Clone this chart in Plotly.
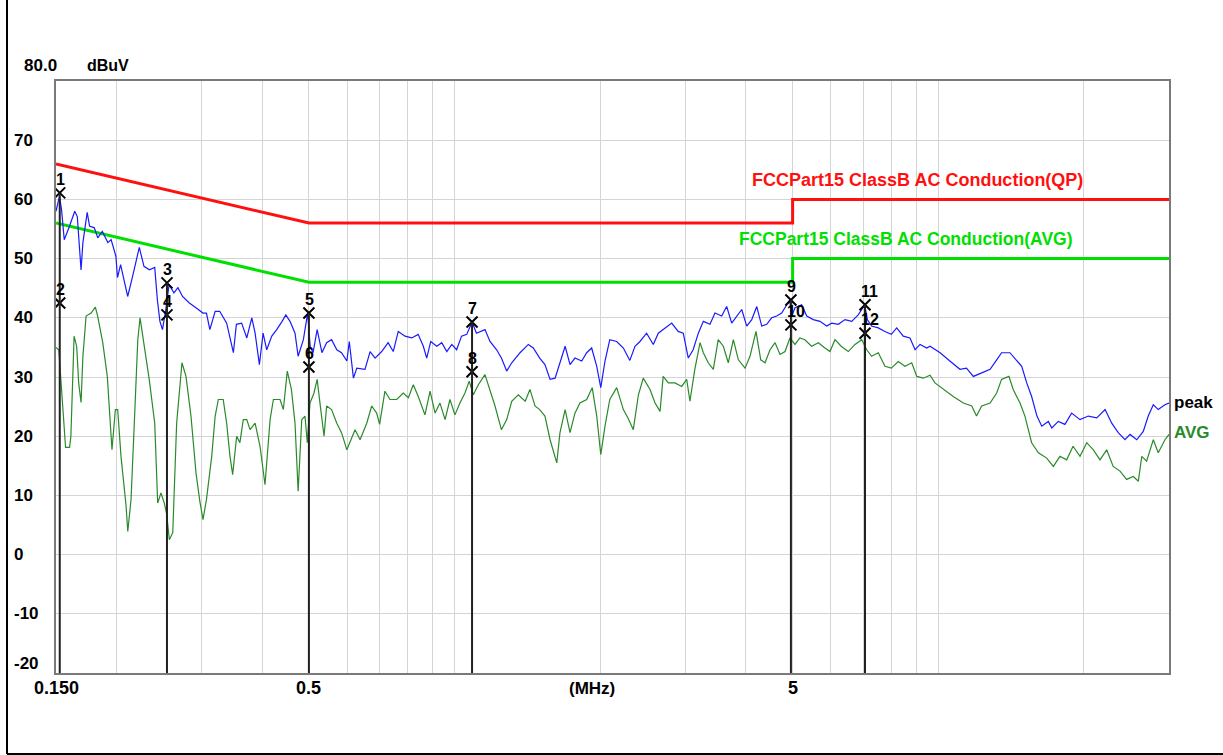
import math
import plotly.graph_objects as go

# ---------------- data ----------------
peak_freq = [0.150, 0.1525, 0.154, 0.156, 0.160, 0.164, 0.166, 0.169, 0.1705, 0.174, 0.176, 0.180, 0.183, 0.187,
             0.192, 0.195, 0.1995, 0.201, 0.204, 0.211, 0.216, 0.223, 0.228, 0.234, 0.240, 0.243, 0.246, 0.249,
             0.253, 0.257, 0.263, 0.268, 0.274, 0.283, 0.292, 0.302, 0.307, 0.312, 0.320, 0.327, 0.338, 0.349,
             0.354, 0.363, 0.372, 0.381, 0.387, 0.395, 0.402, 0.409, 0.419, 0.429, 0.440, 0.448, 0.457, 0.468,
             0.475, 0.487, 0.497, 0.503, 0.510, 0.520, 0.532, 0.544, 0.557, 0.571, 0.584, 0.599, 0.606, 0.618,
             0.628, 0.653, 0.669, 0.685, 0.707, 0.729, 0.747, 0.765, 0.790, 0.816, 0.841, 0.862, 0.876, 0.893,
             0.919, 0.941, 0.964, 0.987, 1.01, 1.034, 1.06, 1.087, 1.11, 1.156, 1.184, 1.222, 1.25, 1.282, 1.313,
             1.366, 1.421, 1.455, 1.50, 1.538, 1.576, 1.614, 1.652, 1.693, 1.733, 1.774, 1.832, 1.876, 1.921,
             1.968, 2.006, 2.047, 2.094, 2.164, 2.234, 2.304, 2.361, 2.418, 2.495, 2.576, 2.638, 2.722, 2.812,
             2.900, 2.971, 3.043, 3.114, 3.192, 3.269, 3.374, 3.455, 3.567, 3.653, 3.742, 3.833, 3.924, 4.019,
             4.116, 4.216, 4.316, 4.421, 4.525, 4.635, 4.747, 4.862, 4.93, 4.98, 5.057, 5.22, 5.348, 5.517, 5.696,
             5.880, 6.023, 6.216, 6.417, 6.625, 6.833, 7.05, 7.134, 7.282, 7.518, 7.760, 8.0, 8.206, 8.468, 8.742,
             8.957, 9.172, 9.468, 9.618, 10.09, 10.57, 11.09, 11.44, 11.82, 12.30, 12.80, 13.21, 13.52, 14.07,
             14.52, 14.88, 15.24, 15.60, 16.0, 16.37, 16.89, 17.17, 17.71, 18.28, 18.87, 19.64, 20.43, 21.27,
             22.13, 22.84, 23.56, 24.33, 24.92, 25.73, 26.54, 27.18, 27.84, 28.50, 29.43, 30.0]
peak_level = [58.0, 60.5, 58.3, 53.2, 55.5, 58.0, 57.1, 48.1, 52.7, 57.8, 55.5, 55.2, 53.5, 54.6,
              52.7, 53.2, 50.4, 46.8, 49.0, 43.6, 47.0, 51.9, 48.7, 48.1, 48.5, 43.1, 39.4, 38.0,
              41.4, 45.6, 44.2, 45.1, 43.6, 42.5, 41.7, 40.8, 40.8, 38.0, 41.1, 41.1, 39.1, 34.1,
              38.9, 39.1, 36.6, 40.0, 37.4, 32.1, 37.4, 34.6, 36.9, 38.0, 39.4, 40.5, 39.4, 37.4,
              33.5, 36.3, 40.8, 35.2, 34.1, 38.0, 34.1, 35.8, 36.3, 34.6, 34.1, 32.7, 36.0, 29.8,
              31.5, 31.3, 34.3, 33.2, 34.3, 35.8, 34.3, 37.7, 36.9, 36.6, 37.2, 35.2, 33.2, 36.0,
              35.2, 35.8, 34.3, 35.5, 34.6, 36.9, 37.2, 39.3, 37.4, 38.0, 36.0, 34.6, 33.2, 31.0, 32.4,
              34.1, 35.5, 34.9, 33.2, 32.1, 29.6, 29.8, 32.4, 35.2, 32.1, 33.2, 32.7, 34.1, 34.9,
              31.8, 28.2, 32.7, 36.3, 36.0, 34.9, 32.8, 35.2, 36.0, 37.4, 35.5, 37.4, 38.3, 39.1,
              37.7, 37.4, 33.2, 34.6, 37.4, 39.4, 38.9, 40.8, 40.3, 41.9, 39.1, 40.3, 41.4, 38.6,
              39.7, 41.9, 38.6, 38.9, 40.0, 40.3, 40.8, 42.2, 43.0, 40.3, 41.7, 42.2, 40.3, 39.7, 39.4,
              38.6, 39.1, 38.9, 39.7, 39.4, 40.5, 42.2, 39.7, 38.6, 38.3, 37.7, 37.2, 38.3, 36.9, 36.6,
              34.6, 35.5, 34.9, 35.2, 34.1, 32.7, 31.3, 31.5, 30.1, 30.7, 31.3, 32.9, 34.1, 34.1,
              32.9, 31.8, 29.0, 26.7, 23.4, 21.7, 22.5, 21.4, 22.5, 22.0, 23.9, 22.8, 23.4, 23.1,
              24.5, 22.2, 20.6, 19.4, 20.3, 19.4, 20.8, 23.4, 25.3, 24.5, 25.3, 25.6]

avg_freq = [0.150, 0.152, 0.153, 0.155, 0.157, 0.160, 0.161, 0.1635, 0.1655, 0.1671, 0.169, 0.1705, 0.1731,
            0.1773, 0.1809, 0.1829, 0.1874, 0.1915, 0.1958, 0.1990, 0.2012, 0.2044, 0.2094, 0.2111, 0.2144,
            0.2178, 0.2214, 0.2238, 0.2284, 0.2338, 0.240, 0.2434, 0.2472, 0.2512, 0.2541, 0.2573, 0.2615,
            0.2664, 0.2732, 0.2785, 0.2852, 0.2921, 0.2975, 0.302, 0.307, 0.3148, 0.320, 0.3249, 0.3325,
            0.338, 0.3434, 0.3478, 0.3545, 0.360, 0.3658, 0.372, 0.3778, 0.387, 0.3962, 0.4057, 0.4156,
            0.4222, 0.4358, 0.4427, 0.4511, 0.460, 0.468, 0.475, 0.4832, 0.4907, 0.4962, 0.5026, 0.5122,
            0.520, 0.529, 0.5373, 0.544, 0.557, 0.571, 0.584, 0.599, 0.608, 0.6228, 0.6378, 0.6584, 0.6742,
            0.6903, 0.700, 0.718, 0.7353, 0.7593, 0.7836, 0.8027, 0.8218, 0.8415, 0.8687, 0.8901, 0.9116,
            0.9332, 0.9559, 0.9785, 1.002, 1.026, 1.051, 1.0725, 1.0937, 1.120, 1.156, 1.184, 1.2126, 1.25,
            1.282, 1.313, 1.355, 1.40, 1.432, 1.467, 1.50, 1.538, 1.576, 1.627, 1.652, 1.693, 1.733, 1.774,
            1.817, 1.876, 1.926, 1.968, 2.006, 2.047, 2.094, 2.164, 2.234, 2.286, 2.342, 2.40, 2.456, 2.536,
            2.598, 2.660, 2.700, 2.767, 2.856, 2.949, 3.020, 3.067, 3.139, 3.218, 3.269, 3.346, 3.428, 3.509,
            3.595, 3.681, 3.771, 3.862, 3.987, 4.082, 4.20, 4.296, 4.385, 4.490, 4.60, 4.708, 4.823, 4.937,
            5.057, 5.176, 5.30, 5.474, 5.651, 5.831, 5.974, 6.117, 6.30, 6.518, 6.729, 6.947, 7.114, 7.282,
            7.518, 7.760, 8.0, 8.267, 8.536, 8.815, 9.03, 9.314, 9.618, 9.847, 10.24, 10.74, 11.27, 11.73,
            12.0, 12.30, 12.80, 13.21, 13.52, 14.0, 14.29, 14.76, 15.11, 15.60, 16.11, 16.76, 17.30, 17.85,
            18.43, 19.0, 19.64, 20.28, 20.93, 21.60, 22.30, 23.0, 23.76, 24.52, 25.31, 25.93, 26.35, 26.97,
            27.84, 28.50, 29.43, 30.0]
avg_level = [35.0, 34.6, 31.3, 24.5, 18.1, 18.1, 20.0, 36.9, 35.2, 29.0, 25.7, 33.5, 40.3,
             40.8, 41.8, 40.3, 35.8, 30.1, 17.7, 24.5, 24.5, 16.6, 8.2, 3.9, 9.3,
             22.3, 36.3, 40.0, 35.2, 29.6, 22.2, 8.7, 10.4, 8.7, 6.8, 2.5, 3.7,
             22.2, 32.4, 30.1, 23.4, 13.8, 9.0, 5.9, 9.3, 16.6, 23.4, 26.2, 26.2,
             22.2, 16.6, 13.5, 20.0, 18.9, 22.8, 22.8, 21.1, 22.2, 18.3, 11.8, 22.8,
             26.2, 26.2, 24.5, 31.0, 27.9, 22.2, 10.7, 22.8, 23.4, 18.9, 25.6, 27.3,
             29.6, 24.5, 20.0, 25.1, 24.5, 22.2, 20.6, 17.7, 18.9, 21.1, 19.4, 22.2, 25.1,
             23.9, 22.0, 27.6, 26.2, 26.2, 27.3, 26.5, 28.7, 26.7, 23.6, 27.6, 23.9,
             25.6, 22.8, 26.2, 23.6, 25.6, 27.3, 29.3, 27.0, 28.7, 30.4, 27.6, 25.1, 21.1,
             22.8, 25.9, 27.0, 25.9, 27.9, 25.1, 24.5, 23.4, 19.4, 15.5, 20.6, 24.5, 20.6, 23.9,
             25.6, 26.2, 28.2, 23.4, 16.9, 21.7, 26.2, 28.2, 24.5, 23.0, 21.1, 27.0, 29.8, 27.9,
             25.6, 24.2, 30.1, 29.0, 29.0, 28.4, 29.6, 25.9, 31.3, 35.8, 34.1, 32.4, 31.3, 36.3,
             35.2, 32.4, 36.3, 32.9, 31.5, 33.5, 37.7, 32.9, 32.4, 34.6, 35.8, 33.8, 34.3, 36.6,
             35.5, 36.6, 36.3, 35.2, 35.8, 34.9, 34.3, 36.3, 35.2, 34.3, 35.5, 36.3, 34.6, 33.5,
             34.1, 31.8, 31.5, 32.6, 31.8, 32.4, 30.1, 29.8, 30.3, 29.0, 27.9, 26.7, 25.6, 25.1,
             23.4, 25.1, 25.6, 27.3, 29.6, 30.1, 27.9, 25.6, 23.4, 18.9, 17.2, 16.3, 14.9, 16.6,
             16.0, 18.3, 16.6, 18.9, 17.7, 16.0, 17.7, 14.9, 14.1, 12.7, 13.2, 12.4, 16.6, 15.8,
             19.4, 17.2, 19.4, 20.3]

qp_limit_freq = [0.15, 0.5, 5.0, 5.0, 30.0]
qp_limit_level = [66, 56, 56, 60, 60]
avg_limit_freq = [0.15, 0.5, 5.0, 5.0, 30.0]
avg_limit_level = [56, 46, 46, 50, 50]

marker_no = [1, 2, 3, 4, 5, 6, 7, 8, 9, 10, 11, 12]
marker_freq = [0.1527, 0.1527, 0.2544, 0.2544, 0.500, 0.500, 1.087, 1.087, 4.96, 4.96, 7.057, 7.057]
marker_level = [61.1, 42.5, 45.9, 40.5, 40.8, 31.7, 39.3, 30.9, 43.0, 38.8, 42.2, 37.4]

y_tick_values = [70, 60, 50, 40, 30, 20, 10, 0, -10, -20]
x_grid_values = [0.2, 0.3, 0.4, 0.5, 0.6, 0.7, 0.8, 0.9, 1, 2, 3, 4, 5, 6, 7, 8, 9, 10, 20, 30]
x_label_values = [0.15, 0.5, 5, 30]
x_label_text = ["0.150", "0.5", "5", "30.000"]

qp_label = "FCCPart15 ClassB AC Conduction(QP)"
avg_label = "FCCPart15 ClassB AC Conduction(AVG)"

# ---------------- layout geometry ----------------
W, H = 1223, 755
L, R, T, B = 56, 54, 81, 82
PW, PH = W - L - R, H - T - B


def px(xp):
    return (xp - L) / PW


def py(yp):
    return (H - B - yp) / PH


FONT = "Liberation Sans, Arial, sans-serif"
BLUE = "#1a1aff"
DKGREEN = "#2a8a2a"
LIMGREEN = "#00e000"
RED = "#ff1010"

fig = go.Figure()

fig.add_trace(go.Scatter(x=qp_limit_freq, y=qp_limit_level, mode="lines",
                         line=dict(color=RED, width=3), hoverinfo="skip"))
fig.add_trace(go.Scatter(x=avg_limit_freq, y=avg_limit_level, mode="lines",
                         line=dict(color=LIMGREEN, width=3), hoverinfo="skip"))
fig.add_trace(go.Scatter(x=avg_freq, y=avg_level, mode="lines",
                         line=dict(color=DKGREEN, width=1.2)))
fig.add_trace(go.Scatter(x=peak_freq, y=peak_level, mode="lines",
                         line=dict(color=BLUE, width=1.2)))

# marker drop lines (from the upper marker of each pair down to the axis bottom)
shapes = []
for i in range(0, len(marker_freq), 2):
    top = max(marker_level[i], marker_level[i + 1])
    shapes.append(dict(type="line", xref="x", yref="y", x0=marker_freq[i], x1=marker_freq[i],
                       y0=-20, y1=top, line=dict(color="#202020", width=2), layer="above"))

fig.add_trace(go.Scatter(x=marker_freq, y=marker_level, mode="markers",
                         marker=dict(symbol="x-thin", size=11, line=dict(color="black", width=2)),
                         hoverinfo="skip"))

annotations = []
for n, f, v in zip(marker_no, marker_freq, marker_level):
    annotations.append(dict(x=math.log10(f), y=v, xref="x", yref="y", text="<b>%d</b>" % n, showarrow=False,
                            xanchor="left", yanchor="bottom", xshift=-6, yshift=3,
                            font=dict(family=FONT, size=16, color="black")))

# y tick labels
for v in y_tick_values:
    yp = H - B - (v + 20) * PH / 100.0
    if v == -20:
        yp -= 10
    annotations.append(dict(x=px(12), y=py(yp), xref="paper", yref="paper", text="<b>%d</b>" % v,
                            showarrow=False, xanchor="left", yanchor="middle",
                            font=dict(family=FONT, size=17, color="black")))
annotations.append(dict(x=px(22), y=py(65), xref="paper", yref="paper", text="<b>80.0</b>",
                        showarrow=False, xanchor="left", yanchor="middle",
                        font=dict(family=FONT, size=17, color="black")))
annotations.append(dict(x=px(85), y=py(65), xref="paper", yref="paper", text="<b>dBuV</b>",
                        showarrow=False, xanchor="left", yanchor="middle",
                        font=dict(family=FONT, size=16, color="black")))

# x labels
for f, t in zip(x_label_values, x_label_text):
    annotations.append(dict(x=math.log10(f), y=py(688), xref="x", yref="paper", text="<b>%s</b>" % t,
                            showarrow=False, xanchor="center", yanchor="middle",
                            xshift=(-18 if t == "30.000" else 0),
                            font=dict(family=FONT, size=18, color="black")))
annotations.append(dict(x=px(592), y=py(688), xref="paper", yref="paper", text="<b>(MHz)</b>",
                        showarrow=False, xanchor="center", yanchor="middle",
                        font=dict(family=FONT, size=17, color="black")))

# limit labels
annotations.append(dict(x=px(750), y=py(180), xref="paper", yref="paper", text="<b>%s</b>" % qp_label,
                        showarrow=False, xanchor="left", yanchor="middle",
                        font=dict(family=FONT, size=18, color=RED)))
annotations.append(dict(x=px(737), y=py(239), xref="paper", yref="paper", text="<b>%s</b>" % avg_label,
                        showarrow=False, xanchor="left", yanchor="middle",
                        font=dict(family=FONT, size=17.5, color=LIMGREEN)))

# trace labels
annotations.append(dict(x=px(1172), y=py(402), xref="paper", yref="paper", text="<b>peak</b>",
                        showarrow=False, xanchor="left", yanchor="middle",
                        font=dict(family=FONT, size=17, color="black")))
annotations.append(dict(x=px(1172), y=py(433), xref="paper", yref="paper", text="<b>AVG</b>",
                        showarrow=False, xanchor="left", yanchor="middle",
                        font=dict(family=FONT, size=17, color=DKGREEN)))

# outer frame (left and bottom edges visible)
shapes.append(dict(type="line", xref="paper", yref="paper", x0=px(7), x1=px(7), y0=py(-5), y1=py(754),
                   line=dict(color="black", width=2)))
shapes.append(dict(type="line", xref="paper", yref="paper", x0=px(7), x1=px(1230), y0=py(754), y1=py(754),
                   line=dict(color="black", width=2)))

fig.update_layout(
    width=W, height=H,
    margin=dict(l=L, r=R, t=T, b=B, pad=0),
    paper_bgcolor="white", plot_bgcolor="white",
    showlegend=False,
    shapes=shapes, annotations=annotations,
    xaxis=dict(type="log", range=[-0.823909, 1.477121], tickvals=x_grid_values,
               showticklabels=False, ticks="", showgrid=True, gridcolor="#d4d4d4", gridwidth=1,
               showline=True, mirror=True, linecolor="#7a7a7a", linewidth=2, zeroline=False, fixedrange=True),
    yaxis=dict(range=[-20, 80], tickvals=list(range(-20, 81, 10)), showticklabels=False, ticks="",
               showgrid=True, gridcolor="#d4d4d4", gridwidth=1, showline=True, mirror=True,
               linecolor="#7a7a7a", linewidth=2, zeroline=False, fixedrange=True),
)

fig.write_html("out.html", config={"displayModeBar": False},
               post_script="document.body.style.margin='0px';document.body.style.overflow='hidden';")
